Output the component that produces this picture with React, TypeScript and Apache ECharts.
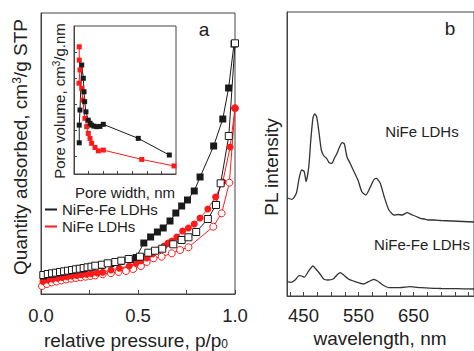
import React, { useEffect, useRef } from "react";
import * as echarts from "echarts";

// ---------- Panel a: N2 isotherms (relative pressure, quantity adsorbed) ----------
const nifeFeAdsorption: number[][] = [
  [0.012, 18], [0.06, 20], [0.11, 22], [0.16, 23.5], [0.21, 25], [0.26, 27], [0.31, 28.5],
  [0.36, 30.5], [0.41, 32.5], [0.46, 34.5], [0.49, 36.5], [0.53, 51], [0.565, 57], [0.6, 62],
  [0.63, 66], [0.665, 73], [0.695, 81], [0.725, 88], [0.755, 94], [0.79, 103], [0.82, 117],
  [0.89, 148], [0.937, 175], [0.967, 206], [0.995, 250],
];
const nifeFeDesorption: number[][] = [
  [0.012, 19], [0.035, 20], [0.057, 20.7], [0.077, 21.3], [0.098, 22], [0.119, 22.7], [0.139, 23.3],
  [0.16, 24], [0.18, 24.7], [0.2, 25.3], [0.22, 26], [0.24, 26.7], [0.26, 27.3], [0.28, 28.3],
  [0.314, 29.3], [0.344, 30.7], [0.383, 32], [0.414, 33.3], [0.452, 35], [0.51, 37.3], [0.553, 41.3],
  [0.588, 43.3], [0.625, 45.3], [0.682, 49.7], [0.725, 54], [0.76, 56.7], [0.8, 62], [0.86, 75],
  [0.902, 89], [0.926, 110.7], [0.968, 158], [1.0, 250.7],
];
const nifeAdsorption: number[][] = [
  [0.01, 12.5], [0.035, 14], [0.06, 15], [0.085, 15.8], [0.11, 16.5], [0.135, 17.2], [0.16, 18],
  [0.185, 18.6], [0.21, 19.2], [0.235, 19.8], [0.26, 20.3], [0.29, 21], [0.318, 21.7], [0.361, 24],
  [0.404, 25.7], [0.455, 28], [0.49, 30.7], [0.515, 33.3], [0.545, 36], [0.575, 40], [0.605, 44],
  [0.635, 48], [0.655, 51], [0.675, 53], [0.7, 57], [0.73, 63], [0.76, 66], [0.79, 70], [0.82, 76],
  [0.86, 85], [0.9, 97], [0.937, 112], [0.975, 147], [1.0, 186],
];
const nifeDesorption: number[][] = [
  [0.005, 8], [0.03, 10], [0.055, 11.5], [0.08, 12.5], [0.105, 13.5], [0.13, 14.5], [0.155, 15.3],
  [0.18, 16], [0.205, 16.7], [0.23, 17.3], [0.255, 18], [0.28, 18.6], [0.318, 19.7], [0.36, 20.8],
  [0.4, 22], [0.438, 23], [0.475, 25], [0.515, 28], [0.545, 32], [0.58, 35.7], [0.622, 37.3],
  [0.674, 40.7], [0.717, 44], [0.76, 46.7], [0.888, 67.3], [0.931, 80.7], [0.971, 111.3], [1.0, 185.7],
];
const pressureTicks = [0, 0.25, 0.5, 0.75, 1];
const pressureLabels = [0, 0.5, 1];

// ---------- Inset: pore size distribution ----------
const psdNifeFe: number[][] = [
  [3.6, 1.51], [3.6, 2.19], [4.1, 2.77], [5.3, 4.5], [6.4, 3.99], [6.9, 3.47], [7.3, 3.09],
  [8.2, 2.7], [9.8, 2.38], [11, 2.26], [12.1, 2.19], [13.7, 2.15], [15.6, 2.13], [17.8, 2.14],
  [20.1, 2.22], [44.1, 1.68], [65.4, 1.04],
];
const psdNife: number[][] = [
  [3.6, 5.2], [3.6, 4.69], [4.1, 4.31], [3.4, 3.8], [5.3, 3.6], [6, 3.15], [7.5, 2.45],
  [8.7, 2.13], [9.8, 1.87], [11, 1.68], [12.1, 1.49], [14.4, 1.33], [16.7, 1.2], [20.1, 1.23],
  [46.5, 0.87], [68.6, 0.62],
];
const poreWidthTicks = [10, 20, 30, 40, 50, 60];
const poreVolumeTicks = [1, 2, 3, 4, 5];

// ---------- Panel b: PL spectra (wavelength nm, intensity) ----------
const plNife: number[][] = [
  [420, 98], [429, 96.7], [437, 102.7], [442, 117.7], [446.7, 126], [451.4, 124.3], [454.7, 114.3],
  [459.6, 129.3], [463.3, 156], [467.1, 177.7], [470.4, 182], [473.9, 179.3], [477.6, 166],
  [482.4, 146], [487.1, 140], [491.9, 137.7], [496.7, 133.3], [501.4, 132.7], [506.1, 137.7],
  [511, 142.7], [515.7, 149.3], [520.4, 153.3], [524.3, 152], [529, 139.3], [534.7, 132.7],
  [541.9, 124.3], [549, 116], [556.1, 104.3], [563.3, 101], [570.4, 107.7], [577.6, 116],
  [582.4, 117.7], [589.6, 112.7], [596.7, 99.3], [605.3, 86], [614.7, 81], [622, 81.5], [629, 81],
  [638.6, 83.3], [648.1, 81], [655, 79.5], [662.4, 77.7], [670, 77], [676.7, 76], [687, 76],
  [700, 75.5], [720, 75], [740, 74.5], [760, 74],
];
const plNifeFe: number[][] = [
  [420, 14.3], [427.6, 13.7], [434.7, 16], [441.9, 20.3], [446.7, 20], [451.4, 18.7], [458.6, 24.3],
  [467.1, 30], [472.9, 26.7], [480, 22], [487.1, 16.7], [494.3, 16], [503.9, 17], [511, 21],
  [516.7, 23.3], [522.9, 21], [532.4, 16.7], [544.3, 14.3], [558.6, 12], [568.1, 14.3], [577.6, 16.7],
  [584.7, 15], [594.3, 11], [606.1, 8.3], [625.3, 8.3], [644.3, 9.3], [663.3, 8.3], [687, 7.7],
  [700, 7.5], [720, 7.4], [740, 7.2], [760, 7],
];
const wavelengthTicks = [425, 450, 475, 500, 525, 550, 575, 600, 625, 650, 675, 700, 725, 750];
const wavelengthLabels = [450, 550, 650];

const FONT = "'Liberation Sans', Arial, Helvetica, sans-serif";
const TXT = "#222";
const AX = "#444";
const RED = "#ff1a1a";
const BLK = "#1a1a1a";

function App() {
  const ref = useRef<HTMLDivElement>(null);
  useEffect(() => {
    if (!ref.current) return;
    const chart = echarts.init(ref.current, undefined, { renderer: "svg" });
    const axisLine = { show: true, lineStyle: { color: AX, width: 1 } };
    const gridBox = { show: true, borderColor: AX, borderWidth: 1, backgroundColor: "transparent" };
    const txt = (x: number, y: number, text: string, size: number, rot = 0, rich?: any) => ({
      type: "text",
      x,
      y,
      rotation: rot,
      style: {
        text,
        fill: TXT,
        fontSize: size,
        fontFamily: FONT,
        align: "center",
        verticalAlign: "middle",
        rich,
      },
    });
    const supRich = (size: number, small: number) => ({
      a: { fontSize: size, fontFamily: FONT, fill: TXT },
      s: { fontSize: small, fontFamily: FONT, fill: TXT, verticalAlign: "top" },
      b: { fontSize: small, fontFamily: FONT, fill: TXT, verticalAlign: "bottom" },
    });
    const option: any = {
      animation: false,
      textStyle: { fontFamily: FONT },
      grid: [
        { left: 41, top: 13, width: 194, height: 281, ...gridBox },
        { left: 74, top: 26, width: 102, height: 148, ...gridBox },
        { left: 287, top: 12, width: 238, height: 284, ...gridBox },
      ],
      xAxis: [
        {
          gridIndex: 0, type: "value", min: 0, max: 1, axisLine,
          axisTick: { show: true, inside: true, length: 4, customValues: pressureTicks, lineStyle: { color: AX } },
          axisLabel: { customValues: pressureLabels, formatter: (v: number) => v.toFixed(1), fontSize: 18.5, color: TXT, margin: 12, fontFamily: FONT },
          splitLine: { show: false },
        },
        {
          gridIndex: 1, type: "value", min: 0, max: 70, axisLine,
          axisTick: { show: true, inside: true, length: 3, customValues: poreWidthTicks, lineStyle: { color: AX } },
          axisLabel: { show: false }, splitLine: { show: false },
        },
        {
          gridIndex: 2, type: "value", min: 420, max: 760, axisLine,
          axisTick: { show: true, inside: true, length: 4, customValues: wavelengthTicks, lineStyle: { color: AX } },
          axisLabel: { customValues: wavelengthLabels, fontSize: 18.5, color: TXT, margin: 10, fontFamily: FONT },
          splitLine: { show: false },
        },
      ],
      yAxis: [
        { gridIndex: 0, type: "value", min: 0, max: 281, axisLine, axisTick: { show: false }, axisLabel: { show: false }, splitLine: { show: false } },
        {
          gridIndex: 1, type: "value", min: 0.31, max: 6, axisLine,
          axisTick: { show: true, inside: true, length: 3, customValues: poreVolumeTicks, lineStyle: { color: AX } },
          axisLabel: { show: false }, splitLine: { show: false },
        },
        { gridIndex: 2, type: "value", min: 0, max: 284, axisLine, axisTick: { show: false }, axisLabel: { show: false }, splitLine: { show: false } },
      ],
      legend: {
        data: ["NiFe-Fe LDHs", "NiFe LDHs"],
        orient: "vertical",
        left: 45,
        top: 202,
        padding: 0,
        itemGap: 2,
        itemWidth: 12,
        itemHeight: 2,
        icon: "rect",
        selectedMode: false,
        textStyle: { fontSize: 15, color: TXT, fontFamily: FONT },
      },
      series: [
        {
          name: "NiFe LDHs (desorption)", type: "line", xAxisIndex: 0, yAxisIndex: 0, data: nifeDesorption,
          symbol: "circle", symbolSize: 7, lineStyle: { color: RED, width: 1 },
          itemStyle: { color: "#fff", borderColor: RED, borderWidth: 1 },
        },
        {
          name: "NiFe LDHs", type: "line", xAxisIndex: 0, yAxisIndex: 0, data: nifeAdsorption,
          symbol: "circle", symbolSize: 7, lineStyle: { color: RED, width: 1 },
          itemStyle: { color: RED },
        },
        {
          name: "NiFe-Fe LDHs", type: "line", xAxisIndex: 0, yAxisIndex: 0, data: nifeFeAdsorption,
          symbol: "rect", symbolSize: 7, lineStyle: { color: BLK, width: 1 },
          itemStyle: { color: BLK },
        },
        {
          name: "NiFe-Fe LDHs (desorption)", type: "line", xAxisIndex: 0, yAxisIndex: 0, data: nifeFeDesorption,
          symbol: "rect", symbolSize: 7, lineStyle: { color: BLK, width: 1 },
          itemStyle: { color: "#fff", borderColor: BLK, borderWidth: 1 },
        },
        {
          name: "NiFe LDHs pore size", type: "line", xAxisIndex: 1, yAxisIndex: 1, data: psdNife,
          symbol: "rect", symbolSize: 5, lineStyle: { color: RED, width: 1 }, itemStyle: { color: RED },
        },
        {
          name: "NiFe-Fe LDHs pore size", type: "line", xAxisIndex: 1, yAxisIndex: 1, data: psdNifeFe,
          symbol: "rect", symbolSize: 5, lineStyle: { color: BLK, width: 1 }, itemStyle: { color: BLK },
        },
        {
          name: "NiFe LDHs PL", type: "line", xAxisIndex: 2, yAxisIndex: 2, data: plNife,
          showSymbol: false, smooth: 0.2, lineStyle: { color: "#333", width: 1.3 },
        },
        {
          name: "NiFe-Fe LDHs PL", type: "line", xAxisIndex: 2, yAxisIndex: 2, data: plNifeFe,
          showSymbol: false, smooth: 0.2, lineStyle: { color: "#333", width: 1.3 },
        },
      ],
      graphic: [
        txt(20, 147, "{a|Quantity adsorbed, cm}{s|3}{a|/g STP}", 19, Math.PI / 2, supRich(19, 12)),
        txt(136, 340, "{a|relative pressure, p/p}{b|0}", 19, 0, supRich(19, 12)),
        txt(59, 101, "{a|Pore volume, cm}{s|3}{a|/g.nm}", 15, Math.PI / 2, supRich(15, 10)),
        txt(125, 192, "Pore width, nm", 15),
        txt(204, 29, "a", 19),
        txt(271, 167, "PL intensity", 19, Math.PI / 2),
        txt(380, 338, "wavelength, nm", 19),
        txt(450, 28, "b", 19),
        txt(422, 131, "NiFe LDHs", 15),
        txt(422, 244, "NiFe-Fe LDHs", 15),
      ],
    };
    chart.setOption(option);
    return () => chart.dispose();
  }, []);
  return (
    <div
      ref={ref}
      style={{ position: "absolute", left: 0, top: 0, width: 474, height: 351, background: "#fff" }}
    />
  );
}

export default App;
